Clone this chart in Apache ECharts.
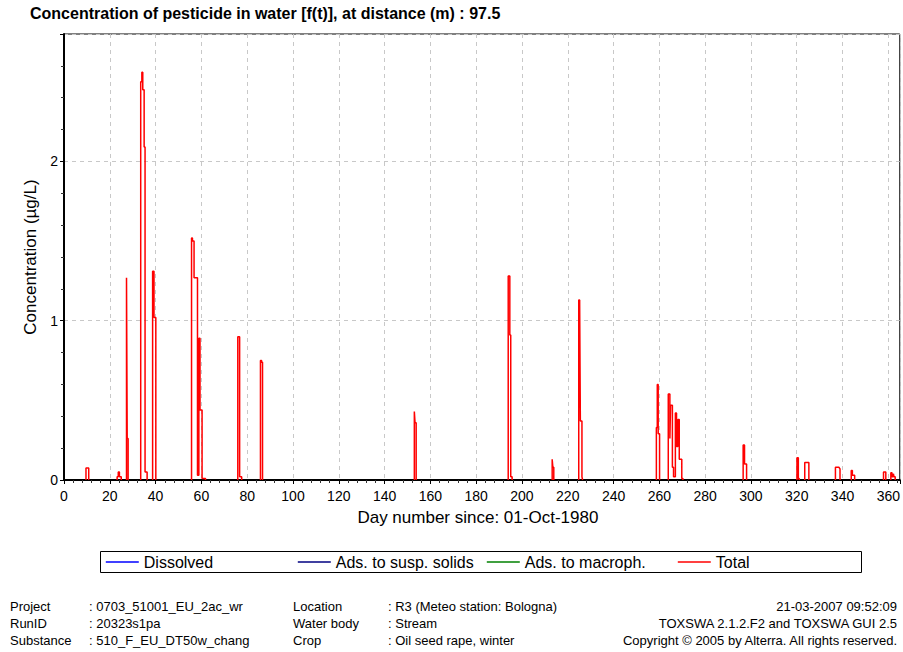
<!DOCTYPE html>
<html>
<head>
<meta charset="utf-8">
<script src="https://cdn.jsdelivr.net/npm/echarts@6/dist/echarts.min.js"></script>
<style>
html,body{margin:0;padding:0;background:#fff;}
#chart{width:903px;height:652px;}
</style>
</head>
<body>
<div id="chart"></div>
<script>
// ---- data ----
const chartTitle = 'Concentration of pesticide in water [f(t)], at distance (m) : 97.5';
const xAxisName = 'Day number since: 01-Oct-1980';
const yAxisName = 'Concentration (\u00b5g/L)';
const seriesNames = ['Dissolved', 'Ads. to susp. solids', 'Ads. to macroph.', 'Total'];

// other fractions: nothing visible in the picture
const dissolvedConc = [];
const suspSolidsConc = [];
const macrophConc = [];

// Total concentration trace (day, µg/L); null separates spikes
const totalDay = [
  9.6, 9.6, 10.8, 10.8, null,
  23.2, 23.2, 23.7, 23.7, 24.2, 24.2, 25.0, 25.0, null,
  27.3, 27.3, 27.6, 27.6, 28.0, 28.0, null,
  33.5, 33.5, 34.0, 34.0, 34.4, 34.4, 35.0, 35.0, 35.4, 35.4, 36.3, 36.3, null,
  38.7, 38.7, 39.3, 39.3, 40.1, 40.1, null,
  55.7, 55.7, 56.1, 56.1, 56.8, 56.8, 58.3, 58.3, 58.9, 58.9, 59.4, 59.4, 60.3, 60.3, 61.8, 61.8, null,
  75.9, 75.9, 76.7, 76.7, 77.6, 77.6, null,
  85.8, 85.8, 86.3, 86.3, 86.7, 86.7, null,
  153.0, 153.0, 153.3, 153.3, 153.8, 153.8, null,
  194.0, 194.0, 194.7, 194.7, 195.1, 195.1, 195.7, 195.7, null,
  213.2, 213.2, 213.5, 213.5, 213.9, 213.9, null,
  224.8, 224.8, 225.2, 225.2, 225.5, 225.5, 226.2, 226.2, 226.5, 226.5, null,
  258.7, 258.7, 259.1, 259.1, 259.5, 259.5, 260.1, 260.1, null,
  263.9, 263.9, 264.6, 264.6, 264.9, 264.9, 265.7, 265.7, 266.2, 266.2, 267.0, 267.0, 267.5, 267.5, 268.1, 268.1, 268.7, 268.7, 269.8, 269.8, 270.3, 270.3, null,
  296.6, 296.6, 297.2, 297.2, 298.1, 298.1, null,
  320.1, 320.1, 320.7, 320.7, 321.1, 321.1, null,
  323.5, 323.5, 325.3, 325.3, null,
  336.9, 336.9, 338.4, 338.9, 338.9, null,
  343.8, 343.8, 344.3, 344.3, 345.3, 345.3, null,
  357.9, 357.9, 358.9, 358.9, null,
  361.1, 361.1, 361.6, 361.6, 362.2, 362.2, 362.5, 362.5, 363.0, 363.0
];
const totalConc = [
  0, 0.075, 0.075, 0, null,
  0, 0.02, 0.02, 0.05, 0.05, 0.02, 0.02, 0, null,
  0, 1.27, 1.27, 0.26, 0.26, 0, null,
  0, 2.50, 2.50, 2.56, 2.56, 2.45, 2.45, 2.09, 2.09, 0.05, 0.05, 0, null,
  0, 1.31, 1.31, 1.02, 1.02, 0, null,
  0, 1.52, 1.52, 1.50, 1.50, 1.27, 1.27, 0.03, 0.03, 0.89, 0.89, 0.44, 0.44, 0.01, 0.01, 0, null,
  0, 0.90, 0.90, 0.02, 0.02, 0, null,
  0, 0.75, 0.75, 0.74, 0.74, 0, null,
  0, 0.43, 0.43, 0.36, 0.36, 0, null,
  0, 1.28, 1.28, 0.91, 0.91, 0.02, 0.02, 0, null,
  0, 0.13, 0.13, 0.08, 0.08, 0, null,
  0, 1.13, 1.13, 1.11, 1.11, 0.37, 0.37, 0.02, 0.02, 0, null,
  0, 0.33, 0.33, 0.60, 0.60, 0.29, 0.29, 0, null,
  0, 0.54, 0.54, 0.26, 0.26, 0.47, 0.47, 0.08, 0.08, 0.02, 0.02, 0.42, 0.42, 0.21, 0.21, 0.38, 0.38, 0.13, 0.13, 0.01, 0.01, 0, null,
  0, 0.22, 0.22, 0.10, 0.10, 0, null,
  0, 0.14, 0.14, 0.01, 0.01, 0, null,
  0, 0.11, 0.11, 0, null,
  0, 0.08, 0.08, 0.07, 0, null,
  0, 0.06, 0.06, 0.03, 0.03, 0, null,
  0, 0.05, 0.05, 0, null,
  0, 0.045, 0.045, 0.02, 0.02, 0.04, 0.04, 0.02, 0.02, 0
];

// axis settings
const xMin = 0, xMax = 365, xStep = 20;
const yMin = 0, yMax = 2.8, yStep = 1;

// footer texts
const footerLabels = ['Project', 'RunID', 'Substance'];
const footerValues = [': 0703_51001_EU_2ac_wr', ': 20323s1pa', ': 510_F_EU_DT50w_chang'];
const footerLabels2 = ['Location', 'Water body', 'Crop'];
const footerValues2 = [': R3 (Meteo station: Bologna)', ': Stream', ': Oil seed rape, winter'];
const footerRight = ['21-03-2007 09:52:09', 'TOXSWA 2.1.2.F2 and TOXSWA GUI 2.5', 'Copyright \u00a9 2005 by Alterra. All rights reserved.'];

// ---- build chart ----
const FONT = '"Liberation Sans", Arial, sans-serif';
const totalData = totalDay.map((d, i) => (d === null ? '-' : [d, totalConc[i]]));

const chart = echarts.init(document.getElementById('chart'), null, {renderer: 'svg'});

const rowY = [606, 623, 640];
const graphics = [
  {type: 'rect', z: 100, shape: {x: 100.5, y: 551.5, width: 761, height: 21},
   style: {fill: 'none', stroke: '#000', lineWidth: 1}}
];
function addText(txt, x, y, align) {
  graphics.push({type: 'text', z: 100, style: {text: txt, x: x, y: y, fill: '#000',
    font: '13px ' + FONT, textAlign: align, textVerticalAlign: 'middle'}});
}
footerLabels.forEach((t, i) => addText(t, 10, rowY[i], 'left'));
footerValues.forEach((t, i) => addText(t, 89, rowY[i], 'left'));
footerLabels2.forEach((t, i) => addText(t, 293, rowY[i], 'left'));
footerValues2.forEach((t, i) => addText(t, 388, rowY[i], 'left'));
footerRight.forEach((t, i) => addText(t, 897, rowY[i], 'right'));

const legendLefts = [105, 297, 486, 677];
const legendColors = ['#0000ff', '#000080', '#008000', '#ff0000'];
const legends = seriesNames.map((n, i) => ({
  data: [n], left: legendLefts[i], top: 554, padding: 0, itemWidth: 33, itemHeight: 14,
  selectedMode: false, itemStyle: {opacity: 0},
  lineStyle: {width: 1.6, color: legendColors[i], opacity: 1},
  textStyle: {fontSize: 16, fontFamily: FONT, color: '#000'}
}));

const seriesData = [dissolvedConc, suspSolidsConc, macrophConc, totalData];
const series = seriesNames.map((n, i) => ({
  name: n, type: 'line', data: seriesData[i], symbol: 'none', connectNulls: false,
  animation: false, color: legendColors[i],
  lineStyle: {color: legendColors[i], width: 1.5}
}));

chart.setOption({
  animation: false,
  backgroundColor: '#fff',
  title: {text: chartTitle, left: 30, top: 5, padding: 0,
    textStyle: {fontSize: 16, fontWeight: 'bold', fontFamily: FONT, color: '#000'}},
  legend: legends,
  grid: {left: 64, top: 34, right: -2, bottom: 172, show: true, borderColor: '#000', borderWidth: 1, containLabel: false},
  xAxis: {
    type: 'value', min: xMin, max: xMax, interval: xStep,
    name: xAxisName, nameLocation: 'middle', nameGap: 29,
    nameTextStyle: {fontSize: 17, fontFamily: FONT, color: '#000', padding: [0, 0, 0, -8]},
    axisLine: {show: true, onZero: false, lineStyle: {color: '#000', width: 2}},
    axisTick: {show: true, length: 4, lineStyle: {color: '#000'}},
    minorTick: {show: true, splitNumber: 5, length: 3, lineStyle: {color: '#333'}},
    axisLabel: {fontSize: 14, fontFamily: FONT, color: '#000', margin: 9, showMaxLabel: false},
    splitLine: {show: true, lineStyle: {color: '#c8c8c8', type: [4, 4], width: 1}}
  },
  yAxis: {
    type: 'value', min: yMin, max: yMax, interval: yStep,
    name: yAxisName, nameLocation: 'middle', nameGap: 25, nameRotate: 90,
    nameTextStyle: {fontSize: 17, fontFamily: FONT, color: '#000'},
    axisLine: {show: true, onZero: false, lineStyle: {color: '#000', width: 2}},
    axisTick: {show: true, length: 4, lineStyle: {color: '#000'}},
    minorTick: {show: true, splitNumber: 5, length: 3, lineStyle: {color: '#333'}},
    axisLabel: {fontSize: 14, fontFamily: FONT, color: '#000', margin: 6, showMaxLabel: false},
    splitLine: {show: true, lineStyle: {color: '#c8c8c8', type: [4, 4], width: 1}}
  },
  series: series,
  graphic: graphics
});
</script>
</body>
</html>
